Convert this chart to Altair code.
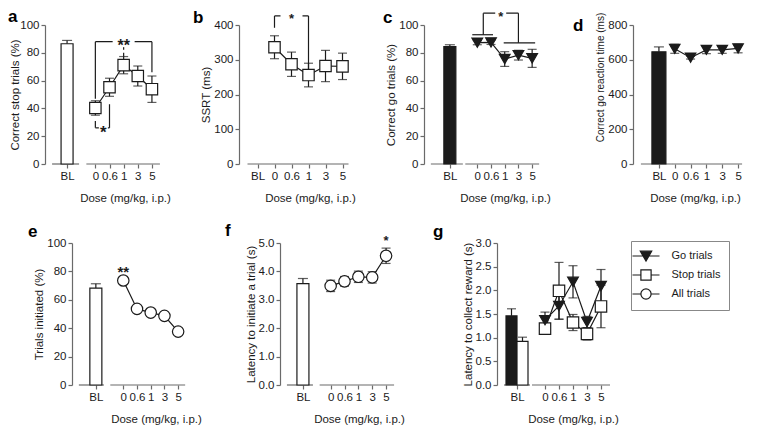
import altair as alt
import pandas as pd

# ---------------- data ----------------
BL = "BL"
GAP = " "
DOSES = ["0", "0.6", "1", "3", "5"]
XTITLE = "Dose (mg/kg, i.p.)"

# (a) correct stop trials (%)
A_BL = [86.5, 2.4]
A_MEAN = [40.3, 55.2, 71.1, 63.3, 53.8]
A_SEM = [5.2, 6.5, 6.2, 7.2, 9.5]
# (b) SSRT (ms)
B_MEAN = [336, 287, 256, 282, 281]
B_SEM = [33, 35, 34, 45, 38]
# (c) correct go trials (%)
C_BL = [84.5, 1.3]
C_MEAN = [87.3, 87.5, 75.5, 78.3, 76.0]
C_SEM = [1.5, 1.5, 5.3, 3.5, 6.5]
# (d) correct go reaction time (ms)
D_BL = [646, 28]
D_MEAN = [663, 612, 657, 657, 665]
D_SEM = [26, 8, 22, 20, 25]
# (e) trials initiated (%)
E_BL = [68.2, 3.1]
E_MEAN = [73.6, 53.6, 51.0, 48.7, 37.6]
# (f) latency to initiate a trial (s)
F_BL = [3.57, 0.18]
F_MEAN = [3.49, 3.65, 3.81, 3.79, 4.55]
F_SEM = [0.20, 0.17, 0.20, 0.20, 0.27]
# (g) latency to collect reward (s)
G_BL_GO = [1.46, 0.15]
G_BL_STOP = [0.92, 0.09]
G_GO_MEAN = [1.37, 1.67, 2.18, 1.33, 2.09]
G_GO_SEM = [0.17, 0.28, 0.34, 0.12, 0.35]
G_STOP_MEAN = [1.19, 1.99, 1.32, 1.08, 1.66]
G_STOP_SEM = [0.10, 0.60, 0.17, 0.13, 0.45]
LEGEND = ["Go trials", "Stop trials", "All trials"]

# significance annotations (category, value)
A_SIG_H = [("0", "5", 88.0), ("0", "0.6", 26.0)]
A_SIG_V = [("0", 88.0, 47.0), ("5", 88.0, 66.0), ("0", 26.0, 31.0), ("0.6", 26.0, 43.0)]
A_SIG_DASH = [("1", 85.0, 74.0)]
A_SIG_TXT = [("1", 88.0, "**")]
A_SIG_TXT_MID = [("0", 26.0, "*")]
B_SIG_H = [("0", "1", 426.0)]
B_SIG_V = [("0", 426.0, 392.0), ("1", 426.0, 272.0)]
B_SIG_TXT = [("0.6", 426.0, "*")]
C_SIG_LOW_L = [("0", "0.6", 93.0)]
C_SIG_LOW_R = [("1", "5", 87.2)]
C_SIG_TOP = [("0", "3", 108.5)]
C_SIG_V_MID = [("0", 93.0, 108.5)]
C_SIG_V = [("3", 108.5, 87.2)]
C_SIG_TXT = [("1", 108.5, "*")]
E_SIG_TXT = [("0", 82.0, "**")]
F_SIG_TXT = [("5", 5.18, "*")]

# ---------------- style ----------------
FONT = "Liberation Sans"
INK = "#1b1b1b"
AXC = "#6a6a6a"
SW = 1.2
TRI = "triangle-down"
MASK = "M-1,-0.5L1,-0.5L1,0.5L-1,0.5Z"
P_TRI = "M-2.25,0L2.25,0M-0.95,-0.8L0.95,-0.8L0,0.85Z"
P_SQ = "M-2.25,0L-0.85,0M0.85,0L2.25,0M-0.85,-0.85L0.85,-0.85L0.85,0.85L-0.85,0.85Z"
P_CI = "M-2.25,0L-0.85,0M0.85,0L2.25,0M0.85,0A0.85,0.85 0 1,1 -0.85,0A0.85,0.85 0 1,1 0.85,0Z"


def encoders(p):
    xs = alt.Scale(type="point", domain=p["xdom"], range=p["xrng"])
    xa = alt.Axis(values=p["xvals"], domain=False, tickSize=4, labelPadding=2, labelAngle=0,
                  title=XTITLE, titleX=p["xtx"], titlePadding=11)
    ys = alt.Scale(domain=p["ydom"], nice=False, zero=True)
    yk = dict(values=p["yvals"], title=p["ytitle"], format=p["yfmt"], tickSize=4,
              labelPadding=2, titlePadding=2)
    for k_src, k_dst in (("yty", "titleY"), ("ytx", "titleX"), ("ytfs", "titleFontSize")):
        if k_src in p:
            yk[k_dst] = p[k_src]
    ya = alt.Axis(**yk)

    def X(field="cat"):
        return alt.X(field, type="nominal", scale=xs, axis=xa)

    def XD(v):
        return alt.X(datum=v, type="nominal", scale=xs, axis=xa)

    def Y(field):
        return alt.Y(field, type="quantitative", scale=ys, axis=ya)

    def YD(v):
        return alt.Y(datum=v, type="quantitative", scale=ys, axis=ya)

    return X, XD, Y, YD


def axis_segments(p, XD, YD):
    out = []
    for c1, o1, c2, o2 in p["segs"]:
        out.append(alt.Chart().mark_rule(color=AXC, strokeWidth=SW, xOffset=o1, x2Offset=o2)
                   .encode(x=XD(c1), x2=alt.X2(datum=c2), y=YD(0)))
    return out


def bl_layers(X, Y, vals, fill, dx=0, bw=12, cap=10):
    df = pd.DataFrame({"cat": [BL], "mean": [vals[0]], "hi": [vals[0] + vals[1]]})
    base = alt.Chart(df)
    return [
        base.mark_rule(color=INK, strokeWidth=SW, xOffset=dx).encode(x=X(), y=Y("mean"), y2="hi"),
        base.mark_tick(color=INK, size=cap, thickness=SW, xOffset=dx).encode(x=X(), y=Y("hi")),
        base.mark_bar(size=bw, fill=fill, stroke=INK, strokeWidth=SW, xOffset=dx).encode(x=X(), y=Y("mean")),
    ]


def dose_df(mean, sem=None):
    d = {"cat": DOSES, "mean": mean}
    if sem is not None:
        d["lo"] = [m - s for m, s in zip(mean, sem)]
        d["hi"] = [m + s for m, s in zip(mean, sem)]
    return pd.DataFrame(d)


def err_layers(X, Y, df, cap=9):
    base = alt.Chart(df)
    return [
        base.mark_rule(color=INK, strokeWidth=SW).encode(x=X(), y=Y("lo"), y2="hi"),
        base.mark_tick(color=INK, size=cap, thickness=SW).encode(x=X(), y=Y("lo")),
        base.mark_tick(color=INK, size=cap, thickness=SW).encode(x=X(), y=Y("hi")),
    ]


def line_layer(X, Y, df):
    return alt.Chart(df).mark_line(color=INK, strokeWidth=SW).encode(x=X(), y=Y("mean"))


def point_layer(X, Y, df, shape, fill, size=130):
    return alt.Chart(df).mark_point(shape=shape, size=size, filled=True, fill=fill, stroke=INK,
                                    strokeWidth=SW, opacity=1).encode(x=X(), y=Y("mean"))


def hsegs(X, Y, rows, o1=0, o2=0):
    df = pd.DataFrame(rows, columns=["cat", "cat2", "y"])
    return alt.Chart(df).mark_rule(color=INK, strokeWidth=SW, xOffset=o1, x2Offset=o2).encode(
        x=X(), x2="cat2", y=Y("y"))


def vsegs(X, Y, rows, o=0, dash=None):
    df = pd.DataFrame(rows, columns=["cat", "y", "y2"])
    kw = dict(color=INK, strokeWidth=SW, xOffset=o)
    if dash:
        kw["strokeDash"] = dash
    return alt.Chart(df).mark_rule(**kw).encode(x=X(), y=Y("y"), y2="y2")


def stars(X, Y, rows, fs, mask_w=0, dx=0):
    df = pd.DataFrame(rows, columns=["cat", "y", "label"])
    out = []
    if mask_w:
        out.append(alt.Chart(df).mark_point(shape=MASK, size=mask_w * mask_w, filled=True, fill="white",
                                            strokeWidth=0, opacity=1, xOffset=dx)
                   .encode(x=X(), y=Y("y")))
    out.append(alt.Chart(df).mark_text(fontSize=fs, fontWeight="bold", color=INK, baseline="alphabetic",
                                       dy=round(0.575 * fs, 1), dx=dx, font=FONT)
               .encode(x=X(), y=Y("y"), text="label"))
    return out


def panel(p, layers, letter, ldx, ldy):
    return alt.layer(*layers).properties(
        width=p["w"], height=p["h"],
        title=alt.TitleParams(letter, anchor="start", frame="group", dx=ldx, dy=ldy, offset=0,
                              fontSize=17, fontWeight="bold", color="black", baseline="alphabetic",
                              font=FONT))


def spacer(w, h):
    return alt.Chart(pd.DataFrame({"v": [0]})).mark_point(opacity=0).encode(
        x=alt.X("v:Q", axis=None), y=alt.Y("v:Q", axis=None)).properties(
        width=w, height=h, view=alt.ViewBackground(fill="white", fillOpacity=0))


GAPDOM = [BL, GAP] + DOSES
FULLDOM = [BL] + DOSES
VALS = [BL] + DOSES
H1 = 139
H2 = 142

# ---------------- panel a ----------------
PA = dict(xdom=GAPDOM, xrng=[15, 114], xvals=VALS, xtx=80, ydom=[0, 100], yvals=[0, 20, 40, 60, 80, 100],
          ytitle="Correct stop trials (%)", yfmt="d", w=184, h=H1, ytx=-25,
          segs=[(BL, -15, BL, 12), ("0", -9, "5", 8)])
X, XD, Y, YD = encoders(PA)
dfa = dose_df(A_MEAN, A_SEM)
la = axis_segments(PA, XD, YD) + bl_layers(X, Y, A_BL, "white")
la += [hsegs(X, Y, A_SIG_H), vsegs(X, Y, A_SIG_V), vsegs(X, Y, A_SIG_DASH, dash=[4, 3])]
la += stars(X, Y, A_SIG_TXT, 16, mask_w=22) + stars(X, Y, A_SIG_TXT_MID, 17, mask_w=9, dx=8)
la += err_layers(X, Y, dfa) + [line_layer(X, Y, dfa), point_layer(X, Y, dfa, "square", "white")]
pa = panel(PA, la, "a", -37, 20)

# ---------------- panel b ----------------
PB = dict(xdom=FULLDOM, xrng=[10, 112], xvals=VALS, xtx=71, ydom=[0, 400], yvals=[0, 100, 200, 300, 400],
          ytitle="SSRT (ms)", yfmt="d", w=175, h=H1, segs=[(BL, -10, "5", 6)])
X, XD, Y, YD = encoders(PB)
dfb = dose_df(B_MEAN, B_SEM)
lb = axis_segments(PB, XD, YD)
lb += [hsegs(X, Y, B_SIG_H), vsegs(X, Y, B_SIG_V)] + stars(X, Y, B_SIG_TXT, 13, mask_w=22)
lb += err_layers(X, Y, dfb) + [line_layer(X, Y, dfb), point_layer(X, Y, dfb, "square", "white")]
pb = panel(PB, lb, "b", -46, 30)

# ---------------- panel c ----------------
PC = dict(xdom=GAPDOM, xrng=[19, 115], xvals=VALS, xtx=81, ydom=[0, 100], yvals=[0, 20, 40, 60, 80, 100],
          ytitle="Correct go trials (%)", yfmt="d", w=199, h=H1,
          segs=[(BL, -19, BL, 13), ("0", -12, "5", 7)])
X, XD, Y, YD = encoders(PC)
dfc = dose_df(C_MEAN, C_SEM)
lc = axis_segments(PC, XD, YD) + bl_layers(X, Y, C_BL, INK)
lc += [hsegs(X, Y, C_SIG_LOW_L, -5, 2), hsegs(X, Y, C_SIG_LOW_R, -1, 3), hsegs(X, Y, C_SIG_TOP, 6, 0),
       vsegs(X, Y, C_SIG_V_MID, o=6), vsegs(X, Y, C_SIG_V)]
lc += stars(X, Y, C_SIG_TXT, 13, mask_w=11, dx=-4)
lc += err_layers(X, Y, dfc) + [line_layer(X, Y, dfc), point_layer(X, Y, dfc, TRI, INK, 115)]
pc = panel(PC, lc, "c", -41, 30)

# ---------------- panel d ----------------
PD = dict(xdom=FULLDOM, xrng=[18, 113], xvals=VALS, xtx=62, ydom=[0, 800], yvals=[0, 200, 400, 600, 800],
          ytitle="Correct go reaction time (ms)", yfmt="d", w=117, h=H1, yty=52, ytfs=10,
          segs=[(BL, -18, BL, 14), ("0", -2, "5", 4)])
X, XD, Y, YD = encoders(PD)
dfd = dose_df(D_MEAN, D_SEM)
ld = axis_segments(PD, XD, YD) + bl_layers(X, Y, D_BL, INK, bw=14)
ld += err_layers(X, Y, dfd) + [line_layer(X, Y, dfd), point_layer(X, Y, dfd, TRI, INK, 110)]
pd_ = panel(PD, ld, "d", -60, 36)

# ---------------- panel e ----------------
PE = dict(xdom=GAPDOM, xrng=[17, 113], xvals=VALS, xtx=84, ydom=[0, 100], yvals=[0, 20, 40, 60, 80, 100],
          ytitle="Trials initiated (%)", yfmt="d", w=198, h=H2,
          segs=[(BL, -17, BL, 8), ("0", -13, "5", 7)])
X, XD, Y, YD = encoders(PE)
dfe = dose_df(E_MEAN)
le = axis_segments(PE, XD, YD) + bl_layers(X, Y, E_BL, "white")
le += [line_layer(X, Y, dfe), point_layer(X, Y, dfe, "circle", "white", 130)]
le += stars(X, Y, E_SIG_TXT, 15)
pe = panel(PE, le, "e", -44, 17)

# ---------------- panel f ----------------
PF = dict(xdom=GAPDOM, xrng=[16, 113], xvals=VALS, xtx=79, ydom=[0, 5], yvals=[0, 1, 2, 3, 4, 5],
          ytitle="Latency to initiate a trial (s)", yfmt=".1f", w=207, h=H2,
          segs=[(BL, -16, BL, 10), ("0", -11, "5", 8)])
X, XD, Y, YD = encoders(PF)
dff = dose_df(F_MEAN, F_SEM)
lf = axis_segments(PF, XD, YD) + bl_layers(X, Y, F_BL, "white")
lf += err_layers(X, Y, dff) + [line_layer(X, Y, dff), point_layer(X, Y, dff, "circle", "white", 130)]
lf += stars(X, Y, F_SIG_TXT, 13)
pf = panel(PF, lf, "f", -55, 18)

# ---------------- panel g ----------------
PG = dict(xdom=GAPDOM, xrng=[13, 111], xvals=VALS, xtx=76, ydom=[0, 3], yvals=[0, 0.5, 1, 1.5, 2, 2.5, 3],
          ytitle="Latency to collect reward (s)", yfmt=".1f", w=120, h=H2,
          segs=[(BL, -13, BL, 13), ("0", -13, "5", 9)])
X, XD, Y, YD = encoders(PG)
dfg_go = dose_df(G_GO_MEAN, G_GO_SEM)
dfg_st = dose_df(G_STOP_MEAN, G_STOP_SEM)
lg = axis_segments(PG, XD, YD)
lg += bl_layers(X, Y, G_BL_GO, INK, dx=-5.5, bw=11, cap=9) + bl_layers(X, Y, G_BL_STOP, "white", dx=5.5, bw=11, cap=9)
lg += err_layers(X, Y, dfg_st) + err_layers(X, Y, dfg_go)
lg += [line_layer(X, Y, dfg_st), line_layer(X, Y, dfg_go)]
lg += [point_layer(X, Y, dfg_st, "square", "white"), point_layer(X, Y, dfg_go, TRI, INK, 115)]
leg = alt.Legend(title=None, orient="none", legendX=134, legendY=-2, strokeColor="#888888", fillColor="white",
                 padding=8, labelFontSize=11, labelFont=FONT, labelColor=INK, rowPadding=3,
                 symbolSize=144, symbolStrokeWidth=SW, symbolStrokeColor=INK, labelOffset=18.5,
                 cornerRadius=0, symbolOpacity=1)
leg_df = pd.DataFrame({"trial": LEGEND})
lg.append(alt.Chart(leg_df).transform_filter("false").mark_point(filled=True, strokeWidth=SW,
                                                                 opacity=1, size=144)
          .encode(x=XD(BL), y=YD(0),
                  shape=alt.Shape("trial:N", scale=alt.Scale(domain=LEGEND, range=[P_TRI, P_SQ, P_CI]), legend=leg),
                  fill=alt.Fill("trial:N", scale=alt.Scale(domain=LEGEND, range=[INK, "white", "white"]), legend=leg),
                  stroke=alt.Stroke("trial:N", scale=alt.Scale(domain=LEGEND, range=[INK, INK, INK]), legend=leg)))
pg = panel(PG, lg, "g", -64, 17)

IND = dict(shape="independent", fill="independent", stroke="independent")
row1 = alt.hconcat(spacer(27, H1), pa, pb, pc, pd_, spacing=10, bounds="flush").resolve_scale(**IND)
row2 = alt.hconcat(spacer(54, H2), pe, pf, pg, spacing=10, bounds="flush").resolve_scale(**IND)

chart = alt.vconcat(row1, row2, spacing=18).resolve_scale(**IND)
chart = chart.properties(padding={"left": 0, "top": 0, "right": 0, "bottom": 0}).configure(font=FONT).configure_view(
    stroke=None).configure_axis(
    labelFont=FONT, titleFont=FONT, labelFontSize=11.5, titleFontSize=11.5, labelColor=INK, titleColor=INK,
    domainColor=AXC, tickColor=AXC, domainWidth=SW, tickWidth=SW, titleFontWeight="normal", grid=False)

chart.save("out.html", embed_options={"renderer": "svg", "actions": False})
